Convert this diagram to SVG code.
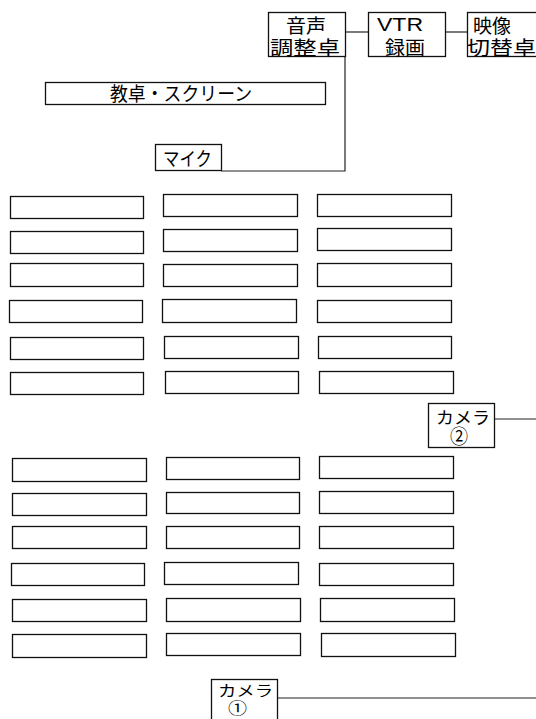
<svg xmlns="http://www.w3.org/2000/svg" width="536" height="719" viewBox="0 0 536 719">
<style>
rect{fill:#fff;stroke:#111;stroke-width:1.3}
.c line,.c polyline{stroke:#222;stroke-width:1.2;fill:none}
text{font-family:"Liberation Sans","Noto Sans CJK JP",sans-serif;font-size:19px;fill:#000}
.s{font-size:17px}
.n{font-size:20px}
.s1{font-size:15px}
.n1{font-size:16px}
</style>
<rect x="0" y="0" width="536" height="719" style="fill:#fff;stroke:none"/>
<g class="c" id="connectors">
<line x1="346" y1="32" x2="368" y2="32"/>
<line x1="445" y1="32" x2="467" y2="32"/>
<polyline points="345,57 345,171 221,171"/>
<line x1="495" y1="419" x2="536" y2="419"/>
<line x1="277" y1="698" x2="536" y2="698"/>
</g>
<g id="onsei"><rect x="268.5" y="12.5" width="77" height="44"/>
<text x="286" y="33" textLength="40" lengthAdjust="spacingAndGlyphs">音声</text>
<text x="270" y="55" textLength="70" lengthAdjust="spacingAndGlyphs">調整卓</text></g>
<g id="vtr"><rect x="368.5" y="12.5" width="77" height="44"/>
<text x="377" y="31" textLength="46" lengthAdjust="spacingAndGlyphs">VTR</text>
<text x="385" y="55" textLength="40" lengthAdjust="spacingAndGlyphs">録画</text></g>
<g id="eizo"><rect x="467.5" y="12.5" width="80" height="44"/>
<text x="473" y="33" textLength="38" lengthAdjust="spacingAndGlyphs">映像</text>
<text x="467" y="55" textLength="69" lengthAdjust="spacingAndGlyphs">切替卓</text></g>
<g id="kyotaku"><rect x="45.5" y="82.5" width="280" height="22"/>
<text x="110" y="101" textLength="142" lengthAdjust="spacingAndGlyphs">教卓・スクリーン</text></g>
<g id="mic"><rect x="155.5" y="144.5" width="66" height="26"/>
<text x="163" y="166" textLength="49" lengthAdjust="spacingAndGlyphs">マイク</text></g>
<g id="seats-front">
<rect x="10.5" y="196.5" width="133" height="22"/>
<rect x="163.5" y="194.5" width="134" height="22"/>
<rect x="317.5" y="194.5" width="134" height="22"/>
<rect x="10.5" y="231.5" width="133" height="22"/>
<rect x="163.5" y="229.5" width="134" height="22"/>
<rect x="317.5" y="228.5" width="134" height="22"/>
<rect x="10.5" y="263.5" width="133" height="23"/>
<rect x="163.5" y="264.5" width="134" height="22"/>
<rect x="317.5" y="263.5" width="134" height="23"/>
<rect x="9.5" y="300.5" width="133" height="22"/>
<rect x="162.5" y="299.5" width="134" height="23"/>
<rect x="317.5" y="300.5" width="134" height="22"/>
<rect x="10.5" y="337.5" width="133" height="22"/>
<rect x="164.5" y="336.5" width="134" height="22"/>
<rect x="318.5" y="336.5" width="133" height="22"/>
<rect x="10.5" y="372.5" width="133" height="22"/>
<rect x="165.5" y="371.5" width="133" height="22"/>
<rect x="319.5" y="371.5" width="134" height="22"/>
</g>
<g id="camera2"><rect x="428.5" y="403.5" width="66" height="44"/>
<text class="s" x="436" y="424" textLength="54" lengthAdjust="spacingAndGlyphs">カメラ</text>
<text class="n" x="450" y="444" textLength="18" lengthAdjust="spacingAndGlyphs">②</text></g>
<g id="seats-back">
<rect x="12.5" y="458.5" width="134" height="23"/>
<rect x="166.5" y="457.5" width="133" height="22"/>
<rect x="319.5" y="456.5" width="134" height="22"/>
<rect x="12.5" y="493.5" width="134" height="22"/>
<rect x="166.5" y="492.5" width="133" height="21"/>
<rect x="319.5" y="491.5" width="134" height="22"/>
<rect x="12.5" y="526.5" width="134" height="22"/>
<rect x="166.5" y="526.5" width="133" height="22"/>
<rect x="319.5" y="526.5" width="134" height="22"/>
<rect x="11.5" y="563.5" width="133" height="22"/>
<rect x="164.5" y="562.5" width="134" height="22"/>
<rect x="319.5" y="563.5" width="134" height="22"/>
<rect x="12.5" y="599.5" width="134" height="22"/>
<rect x="166.5" y="598.5" width="134" height="23"/>
<rect x="320.5" y="598.5" width="134" height="23"/>
<rect x="12.5" y="634.5" width="134" height="23"/>
<rect x="166.5" y="633.5" width="134" height="22"/>
<rect x="321.5" y="633.5" width="134" height="23"/>
</g>
<g id="camera1"><rect x="211.5" y="679.5" width="66" height="44"/>
<text class="s1" x="218" y="696" textLength="55" lengthAdjust="spacingAndGlyphs">カメラ</text>
<text class="n1" x="228" y="714" textLength="19" lengthAdjust="spacingAndGlyphs">①</text></g>
</svg>
